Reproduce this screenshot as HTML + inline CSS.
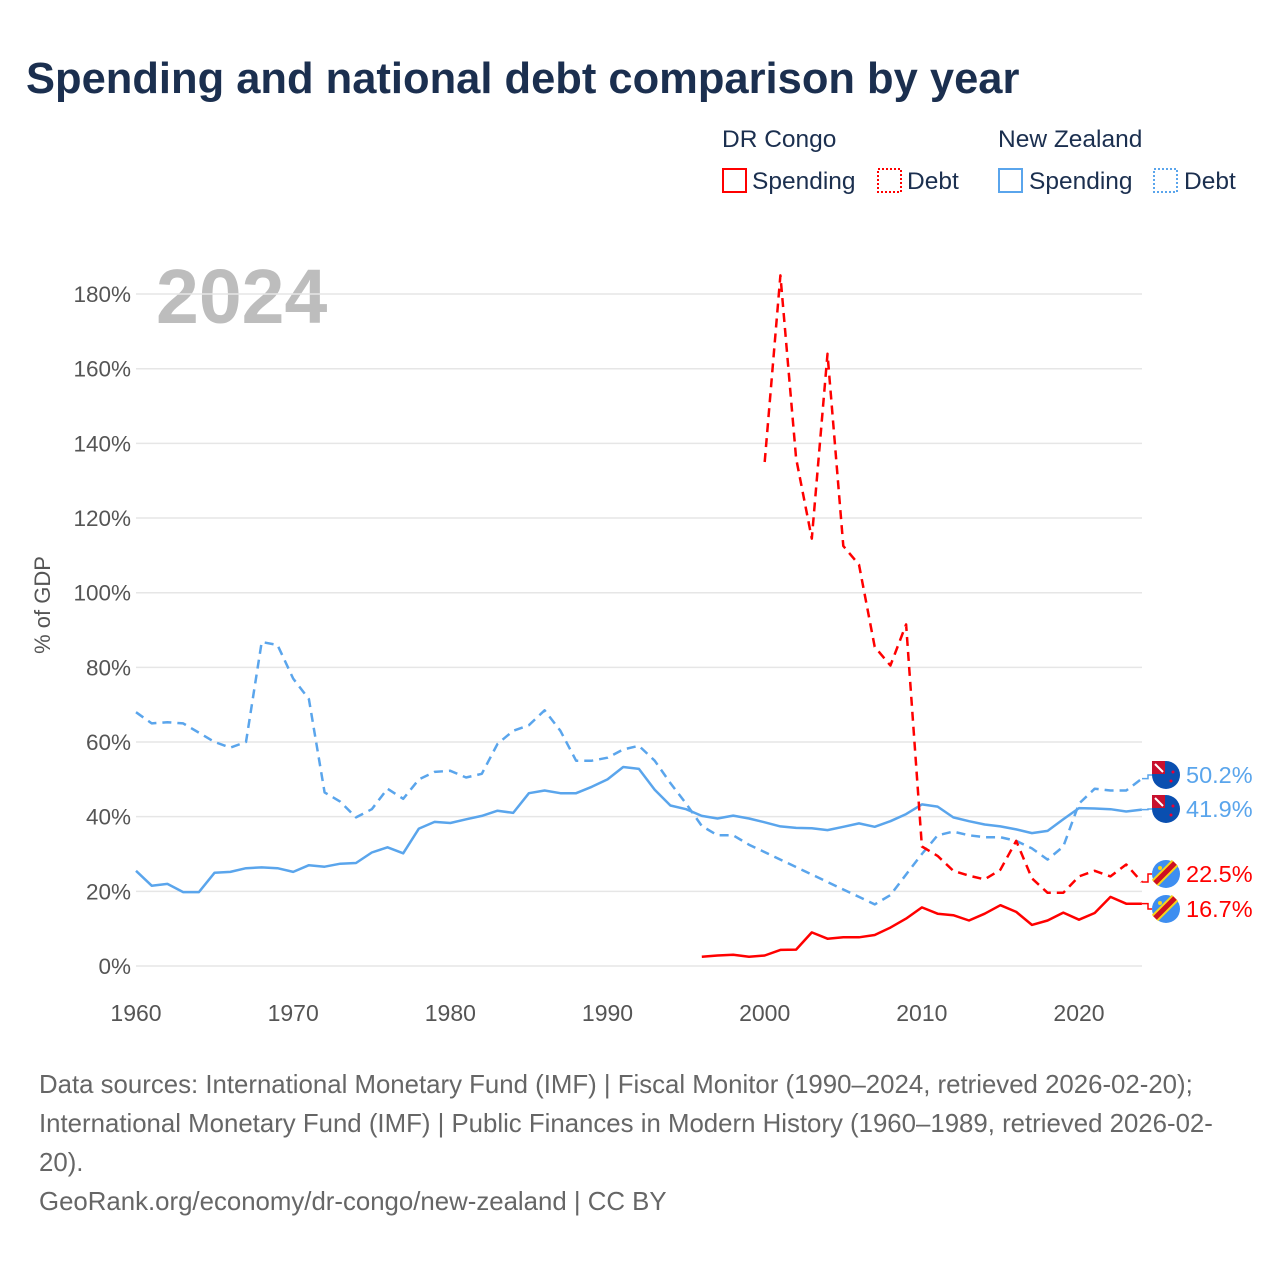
<!DOCTYPE html>
<html><head><meta charset="utf-8"><style>
body{margin:0;background:#fff;font-family:"Liberation Sans",sans-serif;}
svg{display:block}
</style></head><body>
<svg id="chart" width="1280" height="1280" viewBox="0 0 1280 1280">
<text x="26" y="93" font-size="43.5" font-weight="bold" fill="#1b2f4f">Spending and national debt comparison by year</text>
<g font-size="24.5" fill="#1b2f4f">
<text x="722" y="147">DR Congo</text>
<text x="998" y="147">New Zealand</text>
<g><rect x="723" y="169" width="23" height="23" fill="none" stroke="#ff0000" stroke-width="2"/><text x="752" y="189">Spending</text></g>
<g><rect x="878" y="169" width="23" height="23" fill="none" stroke="#ff0000" stroke-width="2" stroke-dasharray="2,2"/><text x="907" y="189">Debt</text></g>
<g><rect x="999" y="169" width="23" height="23" fill="none" stroke="#5aa5ec" stroke-width="2"/><text x="1029" y="189">Spending</text></g>
<g><rect x="1154" y="169" width="23" height="23" fill="none" stroke="#5aa5ec" stroke-width="2" stroke-dasharray="2,2"/><text x="1184" y="189">Debt</text></g>
</g>
<text x="156" y="323" font-size="77" font-weight="bold" fill="#bdbdbd">2024</text>
<text transform="translate(50,605) rotate(-90)" text-anchor="middle" font-size="22" fill="#555">% of GDP</text>
<g id="grid"></g><g id="series"></g><g id="ends"></g>
<g font-size="25.8" fill="#666">
<text x="39" y="1093">Data sources: International Monetary Fund (IMF) | Fiscal Monitor (1990–2024, retrieved 2026-02-20);</text>
<text x="39" y="1132">International Monetary Fund (IMF) | Public Finances in Modern History (1960–1989, retrieved 2026-02-</text>
<text x="39" y="1171">20).</text>
<text x="39" y="1210">GeoRank.org/economy/dr-congo/new-zealand | CC BY</text>
</g>
</svg>
<script>
const yTicks=[0,20,40,60,80,100,120,140,160,180];
const xTicks=[1960,1970,1980,1990,2000,2010,2020];
const nzYears=[];for(let y=1960;y<=2024;y++)nzYears.push(y);
const nzDebt=[68,65,65.3,65,62.5,60,58.5,60,86.8,86,77,71.5,46.5,44,39.8,42,47.5,44.8,50,52,52.3,50.5,51.5,59.5,63,64.5,68.5,63,55,55,55.8,58,59,55,49,43.5,37.5,35,35,32.5,30.5,28.5,26.5,24.5,22.5,20.5,18.5,16.5,19,24.5,30,35,36,35,34.5,34.5,33.5,31.5,28.5,32,43.5,47.5,47,47,50.2];
const nzSpending=[25.5,21.5,22,19.8,19.8,25,25.2,26.2,26.4,26.2,25.2,27,26.6,27.4,27.6,30.4,31.8,30.2,36.8,38.6,38.3,39.3,40.2,41.6,41,46.3,47,46.3,46.3,48,50,53.3,52.8,47.2,43,42,40.2,39.5,40.3,39.5,38.5,37.4,37,36.9,36.4,37.3,38.2,37.3,38.8,40.7,43.3,42.7,39.8,38.8,37.9,37.4,36.6,35.6,36.2,39.3,42.3,42.2,42,41.4,41.9];
const drcDebtYears=[2000,2001,2002,2003,2004,2005,2006,2007,2008,2009,2010,2011,2012,2013,2014,2015,2016,2017,2018,2019,2020,2021,2022,2023,2024];
const drcDebt=[135,185,136,114.5,164,112.5,107.5,85.5,80.5,91.5,32,29.5,25.5,24.2,23.2,25.8,33.5,23.5,19.6,19.6,24,25.5,24,27.2,22.5];
const drcSpendYears=[1996,1997,1998,1999,2000,2001,2002,2003,2004,2005,2006,2007,2008,2009,2010,2011,2012,2013,2014,2015,2016,2017,2018,2019,2020,2021,2022,2023,2024];
const drcSpending=[2.5,2.8,3.0,2.5,2.8,4.3,4.4,9,7.3,7.7,7.7,8.3,10.3,12.7,15.7,14,13.6,12.2,14,16.3,14.5,11,12.2,14.3,12.4,14.2,18.5,16.7,16.7];
const NS='http://www.w3.org/2000/svg';
const X=y=>136+(y-1960)*15.717;
const Y=v=>966-v*3.733;
const grid=document.getElementById('grid'),ser=document.getElementById('series'),ends=document.getElementById('ends');
function mk(tag,attrs,parent){const e=document.createElementNS(NS,tag);for(const k in attrs)e.setAttribute(k,attrs[k]);parent.appendChild(e);return e;}
yTicks.forEach(t=>{
 const l=mk('line',{x1:136,x2:1142,y1:Y(t),y2:Y(t),stroke:'#e6e6e6','stroke-width':1.5},grid);
 
 
 const tx=mk('text',{x:131,y:Y(t)+8,'text-anchor':'end','font-size':22.5,fill:'#555'},grid);
 tx.textContent=t+'%';
 
 
});
xTicks.forEach(t=>{
 const tx=mk('text',{x:X(t),y:1021,'text-anchor':'middle','font-size':23,fill:'#555'},grid);
 tx.textContent=t;
 
 
});
function line(xs,vs,color,dash,name){
 const d=xs.map((x,i)=>(i?'L':'M')+X(x).toFixed(1)+','+Y(vs[i]).toFixed(1)).join(' ');
 const p=mk('path',{d:d,fill:'none',stroke:color,'stroke-width':2.5,'stroke-linejoin':'round'},ser);
 if(dash)p.setAttribute('stroke-dasharray',dash);
 
 
}
line(nzYears,nzDebt,'#5aa5ec','9,6','nz-debt-line');
line(nzYears,nzSpending,'#5aa5ec',null,'nz-spending-line');
line(drcDebtYears,drcDebt,'#ff0000','9,6','drc-debt-line');
line(drcSpendYears,drcSpending,'#ff0000',null,'drc-spending-line');
const endVals=[[nzDebt[nzDebt.length-1],775,'#5aa5ec','nz','nz-debt-end-label'],[nzSpending[nzSpending.length-1],809,'#5aa5ec','nz','nz-spending-end-label'],[drcDebt[drcDebt.length-1],874,'#ff0000','drc','drc-debt-end-label'],[drcSpending[drcSpending.length-1],909,'#ff0000','drc','drc-spending-end-label']];
endVals.forEach(([v,ly,c,f,n])=>{
 const g=mk('g',{},ends);
 
 
 mk('path',{d:`M1142,${Y(v)} L1148,${Y(v)} L1148,${ly} L1152,${ly}`,fill:'none',stroke:c,'stroke-width':1.5},g);
 const cx=1166;
 if(f==='nz'){
  mk('circle',{cx:cx,cy:ly,r:14,fill:'#0a4fb0'},g);
  mk('rect',{x:cx-14,y:ly-14,width:13,height:13,fill:'#c8102e'},g);
  mk('path',{d:`M${cx-11},${ly-11} L${cx-3},${ly-3}`,stroke:'#fff','stroke-width':2},g);
  mk('circle',{cx:cx+7,cy:ly-3,r:1.5,fill:'#e03'},g);
  mk('circle',{cx:cx+5,cy:ly+6,r:1.5,fill:'#e03'},g);
 }else{
  mk('circle',{cx:cx,cy:ly,r:14,fill:'#3e8ef0'},g);
  mk('path',{d:`M${cx-11},${ly+9} L${cx+9},${ly-11}`,stroke:'#f7d618','stroke-width':9},g);
  mk('path',{d:`M${cx-11},${ly+9} L${cx+9},${ly-11}`,stroke:'#ce1021','stroke-width':5},g);
  mk('circle',{cx:cx-6,cy:ly-6,r:2,fill:'#f7d618'},g);
 }
 const t=mk('text',{x:1186,y:ly+8,'font-size':23.5,fill:c},g);
 t.textContent=v.toFixed(1)+'%';
});
</script>
</body></html>
